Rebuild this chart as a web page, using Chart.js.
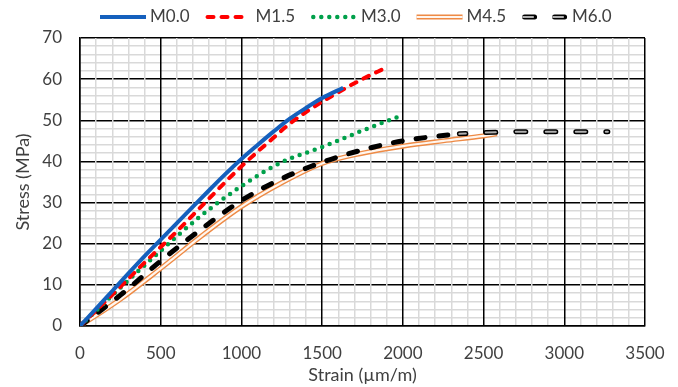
<!DOCTYPE html>
<html>
<head>
<meta charset="utf-8">
<script src="https://cdn.jsdelivr.net/npm/chart.js@4.4.1/dist/chart.umd.min.js"></script>
<style>
  body { margin: 0; background: #fff; }
  #wrap { width: 678px; height: 387px; }
</style>
</head>
<body>
<div id="wrap"><canvas id="stress-chart"></canvas></div>
<script>
// values (strain in µm/m, stress in MPa)
const m00Strain = [0, 100, 200, 300, 400, 500, 600, 700, 800, 900, 1000, 1100, 1200, 1300, 1400, 1500, 1630];
const m00Stress = [0, 4.2, 8.5, 12.8, 17, 21, 25, 29, 33, 36.9, 40.6, 44, 47.3, 50.4, 53, 55.4, 57.9];

const m15Strain = [0, 200, 400, 500, 600, 800, 1000, 1200, 1300, 1400, 1500, 1600, 1700, 1800, 1870];
const m15Stress = [0, 7.6, 15.4, 19.2, 23, 31, 38.8, 45.8, 49.2, 52, 54.5, 56.8, 59, 61, 62.3];

const m30Strain = [0, 250, 500, 750, 1000, 1250, 1500, 1750, 2000];
const m30Stress = [0, 9.3, 18.3, 26.8, 34, 39.8, 43.5, 47.5, 51.3];

const m45Strain = [0, 250, 500, 750, 1000, 1250, 1500, 1750, 2000, 2250, 2500, 2583];
const m45Stress = [0, 6.5, 14, 21.8, 29, 34.8, 39.5, 42, 43.7, 45, 46.2, 46.7];

const m60Strain = [0, 250, 500, 750, 1000, 1250, 1500, 1750, 2000, 2250, 2350, 2500, 2750, 3000, 3270];
const m60Stress = [0, 7.5, 15.8, 23.5, 30.5, 35.8, 39.8, 42.8, 45, 46.3, 46.7, 47, 47.2, 47.2, 47.2];
const m60Break = 2350; // after this strain the line is drawn hollow

const xTickLabels = [0, 500, 1000, 1500, 2000, 2500, 3000, 3500];
const yTickLabels = [0, 10, 20, 30, 40, 50, 60, 70];

const textColor = '#404040';

function points(xs, ys) {
  return xs.map((x, i) => ({ x: x, y: ys[i] }));
}

const m60Points = points(m60Strain, m60Stress);

const datasets = [
  { label: 'M0.0', data: points(m00Strain, m00Stress), borderColor: '#1560bd', borderWidth: 4, order: 1 },
  { label: 'M1.5', data: points(m15Strain, m15Stress), borderColor: '#ff0000', borderWidth: 4,
    borderDash: [6, 8], borderCapStyle: 'round', order: 2 },
  { label: 'M3.0', data: points(m30Strain, m30Stress), borderColor: '#00a04a', borderWidth: 4.5,
    borderDash: [0, 8], borderCapStyle: 'round', order: 3 },
  { label: 'M4.5', data: points(m45Strain, m45Stress), borderColor: '#ee8a45', borderWidth: 5, order: 8 },
  { label: 'M4.5 inner', data: points(m45Strain, m45Stress), borderColor: '#fff6ef', borderWidth: 2.2, order: 7 },
  { label: 'M6.0 solid', data: m60Points.filter(p => p.x <= m60Break), borderColor: '#000', borderWidth: 5,
    borderDash: [9, 14], borderCapStyle: 'round', order: 4 },
  { label: 'M6.0', data: m60Points.filter(p => p.x >= m60Break), borderColor: '#000', borderWidth: 5,
    borderDash: [10, 20], borderDashOffset: 3.5, borderCapStyle: 'round', order: 6 },
  { label: 'M6.0 inner', data: m60Points.filter(p => p.x >= m60Break), borderColor: '#b0b0b0', borderWidth: 2,
    borderDash: [10, 20], borderDashOffset: 3.5, borderCapStyle: 'round', order: 5 }
];

// legend entries: text and the datasets whose strokes make up the sample line
const legendEntries = [
  { text: 'M0.0', layers: [0] },
  { text: 'M1.5', layers: [1] },
  { text: 'M3.0', layers: [2] },
  { text: 'M4.5', layers: [3, 4] },
  { text: 'M6.0', layers: [6, 7] }
];

const legendPlugin = {
  id: 'lineLegend',
  afterDraw(chart) {
    const ctx = chart.ctx;
    const lineLen = 46, textGap = 4, itemGap = 16, y = 17;
    ctx.save();
    ctx.font = '17px Lato';
    ctx.textBaseline = 'middle';
    ctx.textAlign = 'left';
    let x = chart.chartArea.left + 20;
    legendEntries.forEach(entry => {
      entry.layers.forEach(i => {
        const ds = chart.data.datasets[i];
        ctx.beginPath();
        ctx.strokeStyle = ds.borderColor;
        ctx.lineWidth = ds.borderWidth;
        ctx.lineCap = ds.borderCapStyle || 'butt';
        ctx.setLineDash(ds.borderDash || []);
        ctx.lineDashOffset = 0;
        const pad = ctx.lineCap === 'round' ? ds.borderWidth / 2 : 0;
        ctx.moveTo(x + pad, y);
        ctx.lineTo(x + lineLen - pad, y);
        ctx.stroke();
      });
      ctx.setLineDash([]);
      ctx.fillStyle = textColor;
      ctx.fillText(entry.text, x + lineLen + textGap, y);
      x += lineLen + textGap + ctx.measureText(entry.text).width + itemGap;
    });
    ctx.restore();
  }
};

const config = {
  type: 'line',
  data: { datasets: datasets },
  options: {
    responsive: true,
    maintainAspectRatio: false,
    animation: false,
    layout: { padding: { top: 38, right: 33, left: 0, bottom: 0 } },
    elements: {
      point: { radius: 0 },
      line: { cubicInterpolationMode: 'monotone', fill: false }
    },
    plugins: {
      legend: { display: false },
      tooltip: { enabled: false }
    },
    scales: {
      x: {
        type: 'linear',
        min: 0,
        max: 3500,
        ticks: {
          stepSize: 100,
          autoSkip: false,
          maxRotation: 0,
          padding: 17,
          color: textColor,
          font: { size: 17 },
          callback: v => xTickLabels.includes(Math.round(v)) ? v : ''
        },
        grid: {
          drawTicks: false,
          color: c => Math.round(c.tick.value) % 500 === 0 ? '#000' : '#d9d9d9',
          lineWidth: 1.5,
          z: -1
        },
        border: { color: '#000', width: 1.5 },
        title: { display: true, text: 'Strain (µm/m)', color: textColor, font: { size: 18 }, padding: { top: 0, bottom: 1 } },
        afterFit: s => {
          s.height = 61;
          s.paddingLeft = 0;
          s.paddingRight = 0;
        }
      },
      y: {
        min: 0,
        max: 70,
        ticks: {
          stepSize: 2,
          autoSkip: false,
          padding: 18,
          color: textColor,
          font: { size: 17 },
          callback: v => yTickLabels.includes(Math.round(v)) ? v : ''
        },
        grid: {
          drawTicks: false,
          color: c => Math.round(c.tick.value) % 10 === 0 ? '#000' : '#d9d9d9',
          lineWidth: 1.5,
          z: -2
        },
        border: { color: '#000', width: 1.5 },
        title: { display: true, text: 'Stress (MPa)', color: textColor, font: { size: 18 }, padding: { top: 12, bottom: 0 } },
        afterFit: s => { s.width = 80; }
      }
    }
  },
  plugins: [legendPlugin]
};

Chart.defaults.font.family = 'Lato';

const stressChart = new Chart(document.getElementById('stress-chart'), config);
</script>
</body>
</html>
